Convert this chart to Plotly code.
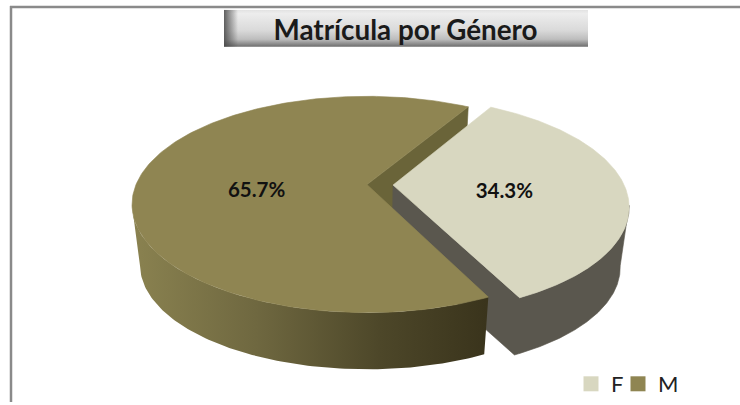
import numpy as np
import plotly.graph_objects as go

genders = ["F", "M"]
shares = [34.3, 65.7]
title_text = "Matrícula por Género"

top_colors = ["#D8D7C0", "#8F8552"]

W, H = 740, 405
FIRST_ANGLE = 30.5      # degrees clockwise from the back of the pie
EXPLODE = 0.1126
CX, CY = 367.0, 186.0
B, A, K = 231.0, 105.3, 0.1835
BASE_SCALE, BASE_Y = 0.966, 247.5
LABEL_DY = [6, 9]
LEGEND_WIDTHS = [2, 30]


def project(u, v, base=False):
    u, v = np.asarray(u, float), np.asarray(v, float)
    w = 1 + K * v
    x, y = B * u / w, -A * v / w
    if base:
        return CX + x * BASE_SCALE, BASE_Y + y * BASE_SCALE
    return CX + x, CY + y


total = sum(shares)
spans = [s / total * 360 for s in shares]
starts = [FIRST_ANGLE, FIRST_ANGLE + spans[0]]
slices = []
for i, (st, sp) in enumerate(zip(starts, spans)):
    th = np.radians(np.linspace(st, st + sp, 240))
    mid = np.radians(st + sp / 2)
    ex = EXPLODE if i == 0 else 0.0
    du, dv = ex * np.sin(mid), ex * np.cos(mid)
    slices.append(dict(th=th, mid=mid, du=du, dv=dv))


def poly(xs, ys, color=None, grad=None):
    kw = dict(x=xs, y=ys, mode="lines", fill="toself", hoverinfo="skip", showlegend=False)
    if grad:
        kw["line"] = dict(width=0)
        kw["fillgradient"] = grad
        kw["fillcolor"] = "rgba(0,0,0,0)"
    else:
        kw["line"] = dict(width=0.6, color=color)
        kw["fillcolor"] = color
    return go.Scatter(**kw)


def face_top(s):
    u = np.r_[s["du"], np.sin(s["th"]) + s["du"], s["du"]]
    v = np.r_[s["dv"], np.cos(s["th"]) + s["dv"], s["dv"]]
    return project(u, v)


def outer_side(s):
    # only the part of the rim in front of the widest point of the ellipse
    th = s["th"][np.cos(s["th"]) < -K]
    u, v = np.sin(th) + s["du"], np.cos(th) + s["dv"]
    x1, y1 = project(u, v)
    x2, y2 = project(u, v, base=True)
    return np.r_[x1, x2[::-1], x1[0]], np.r_[y1, y2[::-1], y1[0]]


def cut_face(s, edge_angle):
    a = np.radians(edge_angle)
    u = np.array([s["du"], np.sin(a) + s["du"]])
    v = np.array([s["dv"], np.cos(a) + s["dv"]])
    x1, y1 = project(u, v)
    x2, y2 = project(u, v, base=True)
    return np.r_[x1, x2[::-1], x1[0]], np.r_[y1, y2[::-1], y1[0]]


def rim_and_cut(s):
    # rim of the slice joined with its trailing cut face, as one outline
    th = s["th"][np.cos(s["th"]) < -K]
    u, v = np.sin(th) + s["du"], np.cos(th) + s["dv"]
    x1, y1 = project(u, v)
    x2, y2 = project(u, v, base=True)
    ax1, ay1 = project(s["du"], s["dv"])
    ax2, ay2 = project(s["du"], s["dv"], base=True)
    return (np.r_[ax1, x1[::-1], x2, ax2, ax1], np.r_[ay1, y1[::-1], y2, ay2, ay1])


F, M = slices
fig = go.Figure()

# title bar
bx = [224, 588, 588, 224, 224]
by = [10, 10, 47, 47, 10]
fig.add_trace(poly(bx, by, grad=dict(type="vertical", start=10, stop=47, colorscale=[
    [0, "#E2E2E2"], [0.1, "#EDEDED"], [0.55, "#DADADA"], [0.8, "#BDBDBD"], [1, "#6E6E6E"]])))
fig.add_trace(poly([224, 238, 238, 224, 224], by, grad=dict(type="horizontal", start=224, stop=238, colorscale=[
    [0, "rgba(70,70,70,0.85)"], [1, "rgba(70,70,70,0)"]])))

# back cut of M
fig.add_trace(poly(*cut_face(M, starts[1] + spans[1]), color="#6A6439"))
# F rim and cut
fig.add_trace(poly(*rim_and_cut(F), color="#5A574E"))
# F top
fig.add_trace(poly(*face_top(F), color=top_colors[0]))
# M rim
fig.add_trace(poly(*outer_side(M), grad=dict(type="horizontal", start=132, stop=486, colorscale=[
    [0, "#8A8250"], [0.35, "#6F6840"], [0.7, "#4D4729"], [1, "#3A341C"]])))
# M top
fig.add_trace(poly(*face_top(M), color=top_colors[1]))

# data labels
lx, ly, lt = [], [], []
for s, val, dy in zip(slices, shares, LABEL_DY):
    px, py = project(0.48 * np.sin(s["mid"]) + s["du"], 0.48 * np.cos(s["mid"]) + s["dv"])
    lx.append(float(px)); ly.append(float(py) + dy); lt.append(f"{val / total * 100:.1f}%")
fig.add_trace(go.Scatter(x=lx, y=ly, mode="text", text=lt, textposition="middle center",
                         textfont=dict(family="Lato", size=20.5, color="#111111", weight="bold"),
                         hoverinfo="skip", showlegend=False))

# legend entries
for g, c, lw in zip(genders, top_colors, LEGEND_WIDTHS):
    fig.add_trace(go.Scatter(x=[None], y=[None], mode="markers", name=g, legendwidth=lw,
                             marker=dict(symbol="square", size=15, color=c)))

fig.update_layout(
    width=W, height=H, margin=dict(l=0, r=0, t=0, b=0),
    paper_bgcolor="white", plot_bgcolor="white",
    xaxis=dict(range=[0, W], visible=False, fixedrange=True),
    yaxis=dict(range=[H, 0], visible=False, fixedrange=True),
    title=dict(text=title_text, x=405.5 / W, y=1 - 30 / H, xanchor="center", yanchor="middle",
               font=dict(family="Lato", size=27.8, color="#1A1A1A", weight="bold")),
    legend=dict(orientation="h", x=571 / W, xanchor="left", y=1 - 387 / H, yanchor="middle",
                font=dict(family="Lato", size=22, color="#222222"), itemwidth=30,
                bgcolor="rgba(0,0,0,0)", traceorder="normal"),
    shapes=[
        dict(type="line", xref="x", yref="y", x0=10, x1=W, y0=7, y1=7, line=dict(color="#8A8A8A", width=2.5)),
        dict(type="line", xref="x", yref="y", x0=11, x1=11, y0=6, y1=H, line=dict(color="#8A8A8A", width=2.5)),
    ],
)
fig.write_html("out.html", config={"displayModeBar": False},
               post_script="document.body.style.margin='0';document.body.style.overflow='hidden';")
